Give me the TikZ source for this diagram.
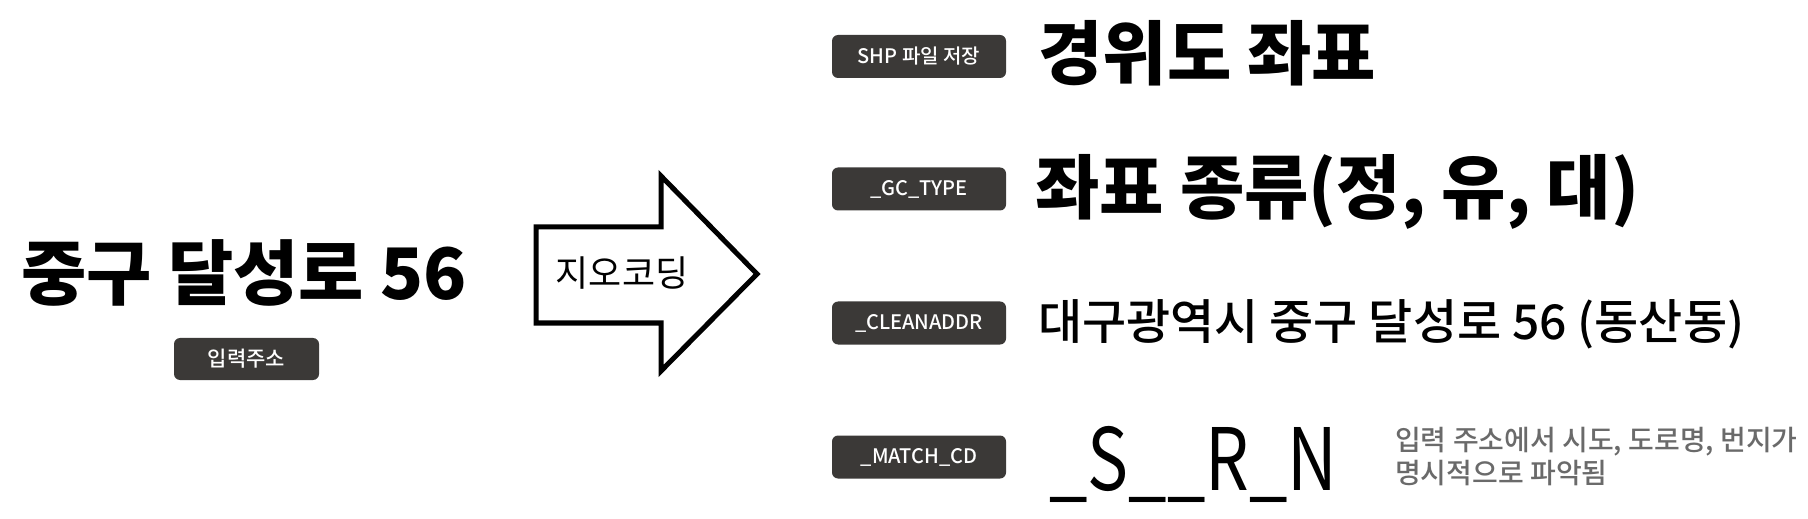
\documentclass[tikz,border=0pt]{standalone}
\usepackage{fontspec}
\setmainfont{Noto Sans CJK KR}
\newfontfamily\medfont{Noto Sans CJK KR Medium}
\usepackage{graphicx}
\definecolor{tagfill}{HTML}{3B3937}
\definecolor{notegray}{HTML}{6A6A6A}
\tikzset{
  tagbox/.style={fill=tagfill, rounded corners=6bp, minimum width=174bp, minimum height=43bp, inner sep=0, text=white, font=\medfont\fontsize{20bp}{22bp}\selectfont},
  bigbold/.style={anchor=base west, inner sep=0, font=\bfseries\fontsize{70bp}{74bp}\selectfont},
  midtext/.style={anchor=base west, inner sep=0, font=\medfont\fontsize{48bp}{52bp}\selectfont},
  notetext/.style={anchor=base west, inner sep=0, text=notegray, font=\medfont\fontsize{28bp}{32bp}\selectfont}
}
\begin{document}
\begin{tikzpicture}[x=1bp,y=-1bp]
\useasboundingbox (0,0) rectangle (1808,519);
% left: input address
\node[anchor=base, inner sep=0, font=\bfseries\fontsize{71bp}{75bp}\selectfont] (addr) at (244,300) {중구 달성로 56};
\node[tagbox, minimum width=145bp, minimum height=42bp, font=\medfont\fontsize{21bp}{23bp}\selectfont] (inaddr) at (246.5,359) {입력주소};
% arrow
\draw[line width=5bp, fill=white, line join=miter] (536,227) -- (661,227) -- (661,176) -- (757,274) -- (661,371) -- (661,323) -- (536,323) -- cycle;
\node[anchor=base, inner sep=0, font=\fontsize{36bp}{40bp}\selectfont] (geo) at (622,287) {지오코딩};
% right column tags
\node[tagbox] (t1) at (919,56.5) {SHP 파일 저장};
\node[tagbox] (t2) at (919,189) {\_GC\_TYPE};
\node[tagbox] (t3) at (919,323) {\_CLEANADDR};
\node[tagbox] (t4) at (919,457) {\_MATCH\_CD};
% right column values
\node[bigbold] (v1) at (1038,80) {경위도 좌표};
\node[bigbold] (v2) at (1035,214) {좌표 종류(정, 유, 대)};
\node[midtext] (v3) at (1038,340) {대구광역시 중구 달성로 56 (동산동)};
\node[anchor=base west, inner sep=0, font=\fontsize{86bp}{90bp}\selectfont] (v4) at (1049,490) {\scalebox{0.80}[1]{\_S\_\_R\_N}};
\node[notetext] (n1) at (1395,450) {입력 주소에서 시도, 도로명, 번지가};
\node[notetext] (n2) at (1395,483) {명시적으로 파악됨};
\end{tikzpicture}
\end{document}
